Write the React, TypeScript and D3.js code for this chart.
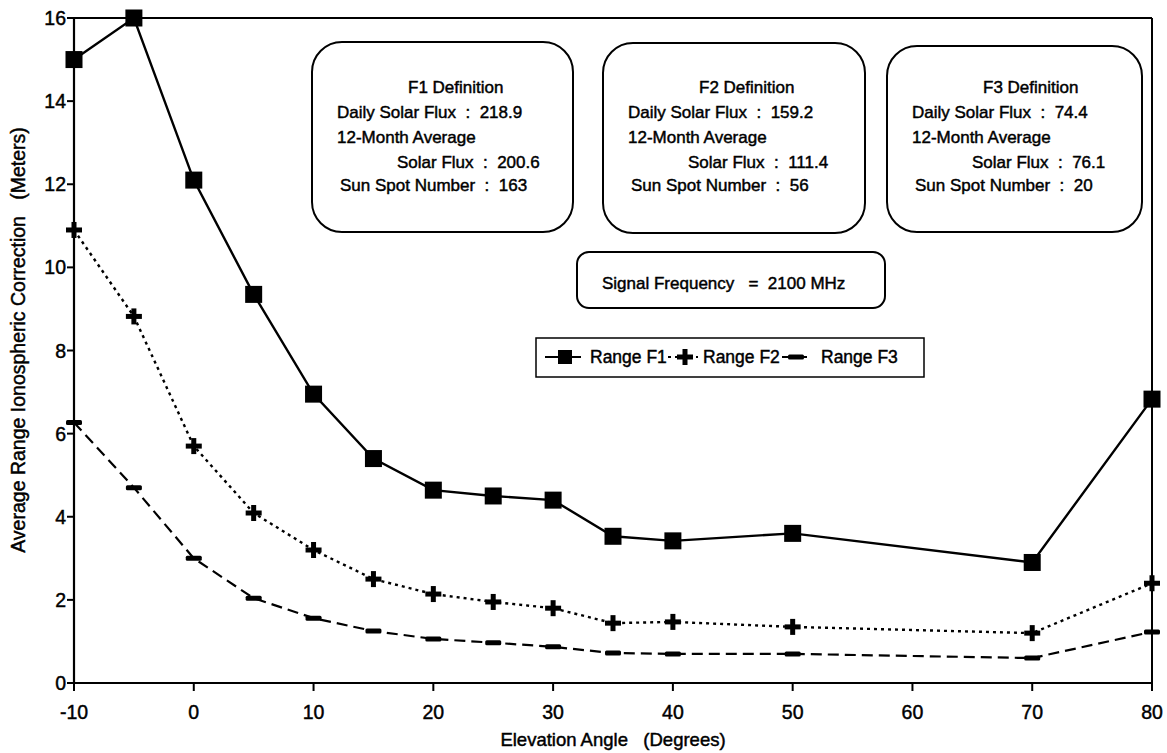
import React from "react";
import * as d3 from "d3";

const angles = [-10, -5, 0, 5, 10, 15, 20, 25, 30, 35, 40, 50, 70, 80];
const rangeF1 = [15.0, 16.0, 12.1, 9.35, 6.95, 5.4, 4.64, 4.5, 4.4, 3.53, 3.42, 3.6, 2.9, 6.83];
const rangeF2 = [10.9, 8.82, 5.7, 4.09, 3.2, 2.5, 2.14, 1.95, 1.8, 1.44, 1.47, 1.35, 1.2, 2.4];
const rangeF3 = [6.27, 4.7, 3.0, 2.04, 1.56, 1.25, 1.06, 0.97, 0.87, 0.72, 0.7, 0.7, 0.6, 1.23];
const xTicks = [-10, 0, 10, 20, 30, 40, 50, 60, 70, 80];
const yTicks = [0, 2, 4, 6, 8, 10, 12, 14, 16];
const defTitles = ["F1 Definition", "F2 Definition", "F3 Definition"];
const dailyFlux = ["218.9", "159.2", "74.4"];
const avgFlux = ["200.6", "111.4", "76.1"];
const sunSpots = ["163", "56", "20"];
const seriesNames = ["Range F1", "Range F2", "Range F3"];

const FONT = "'Liberation Sans', Arial, Helvetica, sans-serif";

const boxes = [
  { x0: 312, x1: 573, y0: 42, y1: 232 },
  { x0: 603, x1: 865, y0: 43, y1: 233 },
  { x0: 887, x1: 1142, y0: 46, y1: 232 },
];

function Square({ x, y, s = 17 }: { x: number; y: number; s?: number }) {
  return <rect x={x - s / 2} y={y - s / 2} width={s} height={s} fill="#000" />;
}
function Plus({ x, y }: { x: number; y: number }) {
  return (
    <g fill="#000">
      <rect x={x - 8} y={y - 2.5} width={16} height={5} />
      <rect x={x - 2.5} y={y - 8} width={5} height={16} />
    </g>
  );
}
function Bar({ x, y }: { x: number; y: number }) {
  return <rect x={x - 8} y={y - 2.5} width={16} height={5} rx={1.5} fill="#000" />;
}

const TS = { stroke: "#000", strokeWidth: 0.45 } as const;

export default function App() {
  const x = d3.scaleLinear().domain([-10, 80]).range([74, 1152]);
  const y = d3.scaleLinear().domain([0, 16]).range([683, 18]);
  const line = d3
    .line<number>()
    .x((_, i) => x(angles[i]))
    .y((d) => y(d));

  return (
    <svg width={1167} height={753} style={{ position: "absolute", left: 0, top: 0, background: "#fff" }} fontFamily={FONT} xmlSpace="preserve">
      <rect x={0} y={0} width={1167} height={753} fill="#fff" />
      {/* frame */}
      <line x1={x(-10)} x2={x(80)} y1={y(16)} y2={y(16)} stroke="#000" strokeWidth={2} />
      <line x1={x(80)} x2={x(80)} y1={y(16)} y2={y(0)} stroke="#000" strokeWidth={2} />
      <line x1={x(-10)} x2={x(-10)} y1={y(16)} y2={y(0)} stroke="#000" strokeWidth={2.2} />
      <line x1={x(-10)} x2={x(80)} y1={y(0)} y2={y(0)} stroke="#000" strokeWidth={2.2} />
      {/* y ticks */}
      {yTicks.map((t) => (
        <g key={"y" + t}>
          <line x1={x(-10) - 7} x2={x(-10)} y1={y(t)} y2={y(t)} stroke="#000" strokeWidth={2} />
          <text x={x(-10) - 8} y={y(t)} dy="0.36em" textAnchor="end" fontSize={19.5} {...TS}>
            {t}
          </text>
        </g>
      ))}
      {/* x ticks */}
      {xTicks.map((t) => (
        <g key={"x" + t}>
          <line x1={x(t)} x2={x(t)} y1={y(0)} y2={y(0) + 8} stroke="#000" strokeWidth={2} />
          <text x={x(t)} y={719} textAnchor="middle" fontSize={19.5} {...TS}>
            {t}
          </text>
        </g>
      ))}
      <text x={613} y={746} textAnchor="middle" fontSize={18.5} xmlSpace="preserve" {...TS}>
        {"Elevation Angle   (Degrees)"}
      </text>
      <text
        transform="translate(25,340) rotate(-90)"
        textAnchor="middle"
        fontSize={19.5}
        xmlSpace="preserve"
        {...TS}
      >
        {"Average Range Ionospheric Correction   (Meters)"}
      </text>

      {/* definition boxes */}
      {boxes.map((b, i) => (
        <g key={"b" + i} fontSize={17} {...TS}>
          <rect x={b.x0} y={b.y0} width={b.x1 - b.x0} height={b.y1 - b.y0} rx={30} ry={30} fill="#fff" stroke="#000" strokeWidth={2} />
          <text x={b.x0 + 96} y={93}>{defTitles[i]}</text>
          <text x={b.x0 + 25} y={118} xmlSpace="preserve">{"Daily Solar Flux  :  " + dailyFlux[i]}</text>
          <text x={b.x0 + 25} y={143}>12-Month Average</text>
          <text x={b.x0 + 85} y={168} xmlSpace="preserve">{"Solar Flux  :  " + avgFlux[i]}</text>
          <text x={b.x0 + 28} y={191} xmlSpace="preserve">{"Sun Spot Number  :  " + sunSpots[i]}</text>
        </g>
      ))}
      {/* signal box */}
      <rect x={577} y={252} width={308} height={56} rx={12} ry={12} fill="#fff" stroke="#000" strokeWidth={2} />
      <text x={602} y={289} fontSize={17} xmlSpace="preserve" {...TS}>
        {"Signal Frequency   =  2100 MHz"}
      </text>

      {/* legend */}
      <rect x={536} y={338} width={388} height={39} fill="#fff" stroke="#000" strokeWidth={1.5} />
      <line x1={545} x2={581} y1={357} y2={357} stroke="#000" strokeWidth={2} />
      <Square x={565} y={357} s={14} />
      <text x={590} y={363} fontSize={17.5} {...TS}>{seriesNames[0]}</text>
      <line x1={668} x2={698} y1={357} y2={357} stroke="#000" strokeWidth={2} strokeDasharray="3,4" />
      <Plus x={685} y={357} />
      <text x={703} y={363} fontSize={17.5} {...TS}>{seriesNames[1]}</text>
      <line x1={782} x2={812} y1={357} y2={357} stroke="#000" strokeWidth={2} strokeDasharray="10,5" />
      <Bar x={796} y={357} />
      <text x={821} y={363} fontSize={17.5} {...TS}>{seriesNames[2]}</text>

      {/* series */}
      <path d={line(rangeF1) || ""} fill="none" stroke="#000" strokeWidth={2.4} />
      <path d={line(rangeF2) || ""} fill="none" stroke="#000" strokeWidth={2.4} strokeDasharray="3,4" />
      <path d={line(rangeF3) || ""} fill="none" stroke="#000" strokeWidth={2.2} strokeDasharray="11,6" />
      {rangeF1.map((v, i) => (
        <Square key={"s1" + i} x={x(angles[i])} y={y(v)} />
      ))}
      {rangeF2.map((v, i) => (
        <Plus key={"s2" + i} x={x(angles[i])} y={y(v)} />
      ))}
      {rangeF3.map((v, i) => (
        <Bar key={"s3" + i} x={x(angles[i])} y={y(v)} />
      ))}
    </svg>
  );
}
